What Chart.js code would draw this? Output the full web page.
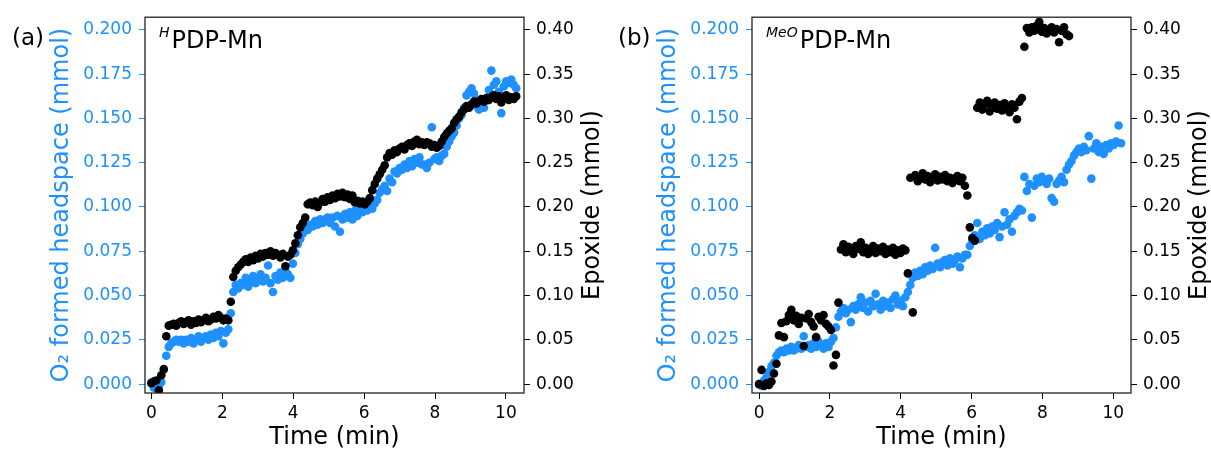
<!DOCTYPE html>
<html>
<head>
<meta charset="utf-8">
<script src="https://cdn.jsdelivr.net/npm/chart.js@4.4.1/dist/chart.umd.min.js"></script>
<style>
  html, body { margin: 0; padding: 0; background: #fff; }
  #wrap { position: relative; width: 1211px; height: 450px; }
  canvas { position: absolute; top: 0; }
</style>
</head>
<body>
<div id="wrap">
  <canvas id="chartA" width="605" height="450" style="left:0px"></canvas>
  <canvas id="chartB" width="605" height="450" style="left:606px"></canvas>
</div>
<script>
const blue = '#1e90ff'
const fontFamily = 'DejaVu Sans'
const sampleStep = 0.07 //minutes between two readings

//tick labels
const timeTicks = [0, 2, 4, 6, 8, 10]
const o2Ticks = [0, 0.025, 0.05, 0.075, 0.1, 0.125, 0.15, 0.175, 0.2]
const epoxideTicks = [0, 0.05, 0.1, 0.15, 0.2, 0.25, 0.3, 0.35, 0.4]

//(a) HPDP-Mn : O2 in headspace (mmol, left axis) and epoxide (mmol, right axis)
const o2A = [
  0.001,-0.002,0.000,-0.001,0.001,0.008,0.016,0.021,0.023,0.024,
  0.025,0.024,0.025,0.023,0.025,0.024,0.026,0.023,0.025,0.027,
  0.024,0.026,0.027,0.025,0.028,0.026,0.029,0.027,0.030,0.023,
  0.029,0.031,0.040,0.052,0.056,0.054,0.057,0.056,0.060,0.055,
  0.058,0.061,0.057,0.059,0.062,0.058,0.060,0.067,0.057,0.052,
  0.061,0.059,0.063,0.060,0.064,0.062,0.060,0.068,0.074,0.079,
  0.082,0.085,0.088,0.087,0.090,0.089,0.092,0.090,0.093,0.091,
  0.093,0.094,0.091,0.094,0.089,0.095,0.086,0.093,0.096,0.094,
  0.097,0.093,0.098,0.095,0.099,0.097,0.100,0.098,0.101,0.099,
  0.102,0.104,0.108,0.110,0.112,0.109,0.116,0.114,0.120,0.119,
  0.122,0.121,0.124,0.122,0.126,0.123,0.127,0.125,0.128,0.124,
  0.124,0.122,0.125,0.145,0.127,0.128,0.126,0.129,0.130,0.134,
  0.137,0.140,0.142,0.146,0.150,0.152,0.156,0.163,0.165,0.167,
  0.164,0.157,0.155,0.158,0.156,0.160,0.166,0.177,0.169,0.171,
  0.165,0.153,0.168,0.171,0.170,0.172,0.169,0.167
]
const epoxideA = [
  0.001,0.003,0.004,-0.007,0.010,0.017,0.054,0.066,0.067,0.068,
  0.066,0.069,0.071,0.068,0.070,0.072,0.067,0.071,0.069,0.073,
  0.070,0.072,0.075,0.071,0.073,0.076,0.074,0.078,0.075,0.072,
  0.074,0.072,0.093,0.121,0.128,0.132,0.135,0.138,0.141,0.138,
  0.143,0.140,0.145,0.142,0.147,0.144,0.148,0.146,0.150,0.145,
  0.148,0.146,0.143,0.147,0.133,0.144,0.146,0.151,0.159,0.168,
  0.177,0.182,0.188,0.203,0.205,0.202,0.206,0.200,0.205,0.209,
  0.206,0.211,0.208,0.213,0.210,0.215,0.212,0.216,0.211,0.214,
  0.209,0.213,0.205,0.207,0.204,0.206,0.203,0.206,0.210,0.219,
  0.226,0.232,0.237,0.242,0.247,0.256,0.261,0.259,0.264,0.262,
  0.266,0.268,0.265,0.270,0.272,0.269,0.274,0.276,0.271,0.273,
  0.270,0.273,0.272,0.268,0.270,0.267,0.269,0.274,0.279,0.283,
  0.286,0.289,0.295,0.299,0.302,0.307,0.310,0.314,0.312,0.316,
  0.319,0.317,0.320,0.322,0.319,0.323,0.321,0.324,0.326,0.322,
  0.325,0.318,0.323,0.326,0.321,0.324,0.322,0.325
]

//(b) MeOPDP-Mn
const o2B = [
  0.000,-0.001,0.002,0.004,0.007,0.010,0.012,0.016,0.018,0.019,
  0.018,0.020,0.019,0.021,0.019,0.020,0.022,0.020,0.027,0.021,
  0.022,0.020,0.023,0.021,0.024,0.022,0.020,0.023,0.021,0.024,
  0.026,0.032,0.038,0.041,0.043,0.040,0.042,0.035,0.044,0.042,
  0.045,0.049,0.043,0.046,0.041,0.047,0.044,0.051,0.045,0.042,
  0.047,0.044,0.046,0.043,0.048,0.050,0.045,0.047,0.044,0.049,
  0.052,0.056,0.060,0.063,0.061,0.064,0.062,0.066,0.064,0.067,
  0.065,0.077,0.068,0.066,0.069,0.070,0.067,0.071,0.068,0.070,
  0.072,0.066,0.071,0.073,0.073,0.078,0.081,0.084,0.091,0.082,
  0.086,0.084,0.088,0.085,0.089,0.087,0.091,0.083,0.089,0.097,
  0.090,0.093,0.086,0.095,0.097,0.099,0.098,0.117,0.109,0.113,
  0.094,0.112,0.116,0.114,0.117,0.115,0.113,0.116,0.105,0.103,
  0.113,0.115,0.117,0.114,0.121,0.124,0.126,0.129,0.131,0.133,
  0.131,0.134,0.132,0.140,0.116,0.133,0.136,0.131,0.134,0.130,
  0.135,0.133,0.136,0.135,0.137,0.146,0.136
]
const epoxideB = [
  0.000,0.016,-0.002,0.001,-0.001,0.003,0.012,0.023,0.055,0.069,
  0.053,0.071,0.078,0.084,0.072,0.077,0.068,0.075,0.043,0.074,
  0.079,0.070,0.065,0.053,0.076,0.072,0.078,0.068,0.065,0.061,
  0.021,0.033,0.092,0.152,0.158,0.149,0.155,0.151,0.147,0.156,
  0.153,0.160,0.149,0.154,0.147,0.152,0.156,0.148,0.153,0.150,
  0.155,0.147,0.152,0.149,0.154,0.146,0.151,0.148,0.153,0.151,
  0.125,0.233,0.081,0.236,0.229,0.234,0.238,0.231,0.235,0.228,
  0.233,0.237,0.230,0.234,0.231,0.236,0.229,0.233,0.227,0.232,
  0.235,0.229,0.233,0.224,0.213,0.177,0.165,0.162,0.312,0.318,
  0.310,0.316,0.320,0.308,0.314,0.318,0.311,0.315,0.309,0.317,
  0.313,0.307,0.316,0.312,0.299,0.319,0.323,0.381,0.402,0.397,
  0.403,0.399,0.405,0.409,0.398,0.402,0.396,0.400,0.403,0.397,
  0.401,0.386,0.399,0.403,0.395,0.393
]

//readings are taken every sampleStep minutes
function toPoints(values){
    return values.map((v, i) => ({x: +(i * sampleStep).toFixed(2), y: v}))
}

//frame, panel letter, compound name and axis titles
const decor = {
    id: 'decor',
    afterDraw(chart, args, opts){
        const {ctx, chartArea: a} = chart
        const midY = (a.top + a.bottom) / 2
        ctx.save()
        ctx.strokeStyle = '#222'
        ctx.lineWidth = 1.3
        ctx.strokeRect(a.left, a.top, a.right - a.left, a.bottom - a.top)

        ctx.fillStyle = '#000'
        ctx.textAlign = 'left'
        ctx.textBaseline = 'alphabetic'
        ctx.font = `23px ${fontFamily}`
        ctx.fillText(opts.letter, 12, 45)

        ctx.font = `italic 14px ${fontFamily}`
        ctx.fillText(opts.prefix, a.left + 14, 37)
        const w = ctx.measureText(opts.prefix).width
        ctx.font = `24px ${fontFamily}`
        ctx.fillText('PDP-Mn', a.left + 14 + w + 2, 48)

        ctx.textAlign = 'center'
        ctx.textBaseline = 'middle'
        ctx.fillText('Time (min)', (a.left + a.right) / 2, 438)

        ctx.save()
        ctx.translate(a.left - 83, midY)
        ctx.rotate(-Math.PI / 2)
        ctx.fillStyle = blue
        ctx.fillText('O₂ formed headspace (mmol)', 0, 0)
        ctx.restore()

        ctx.save()
        ctx.translate(a.right + 69, midY)
        ctx.rotate(-Math.PI / 2)
        ctx.fillText('Epoxide (mmol)', 0, 0)
        ctx.restore()
        ctx.restore()
    }
}

function loadChart(id, o2, epoxide, letter, prefix, xMin, xMax, leftW, rightW){
    const tickFont = {family: fontFamily, size: 17}
    new Chart(id, {
        type: 'scatter',
        data: {
            datasets: [
                {data: toPoints(o2), yAxisID: 'yO2', backgroundColor: blue,
                 pointRadius: 4.3, pointBorderWidth: 0, order: 2, clip: 0},
                {data: toPoints(epoxide), yAxisID: 'yEp', backgroundColor: '#000',
                 pointRadius: 4.3, pointBorderWidth: 0, order: 1, clip: 0}
            ]
        },
        options: {
            responsive: false,
            animation: false,
            events: [],
            layout: {padding: {top: 13, left: 0, right: 0, bottom: 0}},
            scales: {
                x: {
                    type: 'linear', min: xMin, max: xMax,
                    afterBuildTicks: s => { s.ticks = timeTicks.map(v => ({value: v})) },
                    afterFit: s => { s.height = 57 },
                    ticks: {font: tickFont, color: '#000', padding: 4, maxRotation: 0},
                    grid: {drawOnChartArea: false, tickLength: 6, tickColor: '#000'},
                    border: {display: false}
                },
                yO2: {
                    position: 'left', min: -0.00503, max: 0.20716,
                    afterBuildTicks: s => { s.ticks = o2Ticks.map(v => ({value: v})) },
                    afterFit: s => { s.width = leftW },
                    ticks: {font: tickFont, color: blue, padding: 7, callback: v => v.toFixed(3)},
                    grid: {drawOnChartArea: false, tickLength: 6, tickColor: blue},
                    border: {display: false}
                },
                yEp: {
                    position: 'right', min: -0.01006, max: 0.41432,
                    afterBuildTicks: s => { s.ticks = epoxideTicks.map(v => ({value: v})) },
                    afterFit: s => { s.width = rightW },
                    ticks: {font: tickFont, color: '#000', padding: 6, callback: v => v.toFixed(2)},
                    grid: {drawOnChartArea: false, tickLength: 6, tickColor: '#000'},
                    border: {display: false}
                }
            },
            plugins: {
                legend: {display: false},
                tooltip: {enabled: false},
                decor: {letter: letter, prefix: prefix}
            }
        },
        plugins: [decor]
    })
}

loadChart('chartA', o2A, epoxideA, '(a)', 'H', -0.18, 10.51, 145, 81)
loadChart('chartB', o2B, epoxideB, '(b)', 'MeO', -0.2, 10.5, 146, 80)
</script>
</body>
</html>
